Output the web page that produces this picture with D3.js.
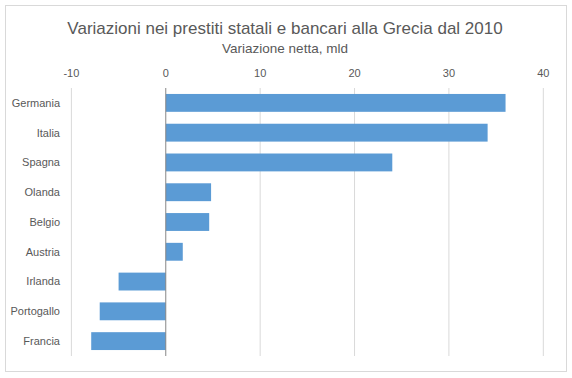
<!DOCTYPE html>
<html>
<head>
<meta charset="utf-8">
<script src="https://cdn.jsdelivr.net/npm/d3@7"></script>
<style>
body { margin: 0; background: white; }
text { font-family: "Liberation Sans", "DejaVu Sans", sans-serif; fill: #595959; }
</style>
</head>
<body>
<script>
const countries = ["Germania", "Italia", "Spagna", "Olanda", "Belgio", "Austria", "Irlanda", "Portogallo", "Francia"];
const values = [36.0, 34.1, 24.0, 4.8, 4.6, 1.8, -5.0, -7.0, -7.9];
const xTicks = [-10, 0, 10, 20, 30, 40];
const title = "Variazioni nei prestiti statali e bancari alla Grecia dal 2010";
const subtitle = "Variazione netta, mld";

const W = 572, H = 378;
const svg = d3.select("body").append("svg").attr("width", W).attr("height", H);

svg.append("rect")
   .attr("x", 5.5).attr("y", 5.5)
   .attr("width", W - 11).attr("height", H - 12)
   .attr("fill", "white").attr("stroke", "#d9d9d9");

const margin = {top: 88, left: 71.4, right: 572 - 543.3, bottom: 378 - 356};
const x = d3.scaleLinear().domain([-10, 40]).range([margin.left, W - margin.right]);
const y = d3.scaleBand().domain(countries).range([margin.top, H - margin.bottom]).paddingInner(0.4).paddingOuter(0.2);

// gridlines
svg.append("g").selectAll("line").data(xTicks.filter(d => d !== 0)).enter()
   .append("line")
   .attr("x1", d => x(d)).attr("x2", d => x(d))
   .attr("y1", margin.top).attr("y2", H - margin.bottom)
   .attr("stroke", "#d9d9d9").attr("stroke-width", 1);

svg.append("g").selectAll("rect").data(values).enter()
   .append("rect")
   .attr("x", d => x(Math.min(0, d)))
   .attr("width", d => Math.abs(x(d) - x(0)))
   .attr("y", (d, i) => y(countries[i]))
   .attr("height", y.bandwidth())
   .attr("fill", "#5b9bd5");

// zero axis
svg.append("line")
   .attr("x1", x(0)).attr("x2", x(0))
   .attr("y1", margin.top).attr("y2", H - margin.bottom)
   .attr("stroke", "#868686").attr("stroke-width", 1);

svg.append("g").selectAll("text").data(xTicks).enter()
   .append("text")
   .attr("x", d => x(d)).attr("y", 77)
   .attr("text-anchor", "middle")
   .attr("font-size", 11)
   .text(d => d);

svg.append("g").selectAll("text").data(countries).enter()
   .append("text")
   .attr("x", 60).attr("y", d => y(d) + y.bandwidth() / 2)
   .attr("dy", "0.35em")
   .attr("text-anchor", "end")
   .attr("font-size", 11)
   .text(d => d);

svg.append("text")
   .attr("x", 285).attr("y", 34)
   .attr("text-anchor", "middle")
   .attr("font-size", 17)
   .text(title);

svg.append("text")
   .attr("x", 285).attr("y", 53)
   .attr("text-anchor", "middle")
   .attr("font-size", 13.5)
   .text(subtitle);
</script>
</body>
</html>
